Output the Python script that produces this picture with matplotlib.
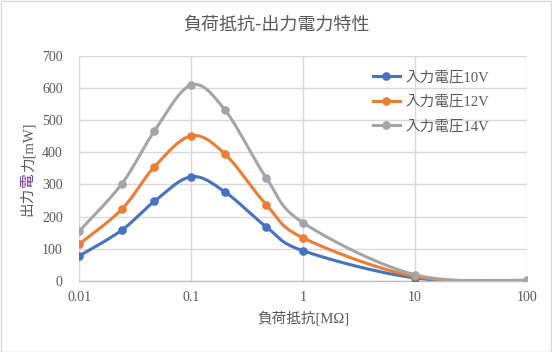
import numpy as np
import matplotlib
matplotlib.use("Agg")
import matplotlib.pyplot as plt
from matplotlib.patches import Rectangle

# ── Data ───────────────────────────────────────────────────────────────────────
load_mohm = [0.01, 0.024, 0.047, 0.1, 0.2, 0.47, 1, 10, 100]
power_10v = [78, 158, 248, 324, 277, 168, 94, 9.5, 1.0]
power_12v = [115, 223, 355, 451, 395, 237, 134, 14, 1.4]
power_14v = [155, 302, 466, 609, 532, 320, 181, 19.5, 2.0]

series_labels = ["入力電圧10V", "入力電圧12V", "入力電圧14V"]
series_colors = ["#4472C4", "#ED7D31", "#A5A5A5"]

x_ticks = [0.01, 0.1, 1, 10, 100]
x_tick_labels = ["0.01", "0.1", "1", "10", "100"]
y_ticks = list(range(0, 701, 100))

TEXT = "#595959"
GRID = "#D9D9D9"
FONTS = ["Liberation Serif", "Noto Sans CJK JP", "DejaVu Sans"]
plt.rcParams["font.family"] = FONTS


def smooth(xs, ys, n=40):
    """Excel-like smoothed line: Catmull-Rom bezier in (log10 x, y) space."""
    u = np.log10(xs)
    y = np.asarray(ys, dtype=float)
    pts = np.column_stack([u, y])
    out = []
    for i in range(len(pts) - 1):
        p0 = pts[max(i - 1, 0)]
        p1 = pts[i]
        p2 = pts[i + 1]
        p3 = pts[min(i + 2, len(pts) - 1)]
        c1 = p1 + (p2 - p0) / 6
        c2 = p2 - (p3 - p1) / 6
        t = np.linspace(0, 1, n)[:, None]
        seg = ((1 - t) ** 3) * p1 + 3 * ((1 - t) ** 2) * t * c1 \
            + 3 * (1 - t) * t ** 2 * c2 + t ** 3 * p2
        out.append(seg if i == 0 else seg[1:])
    out = np.vstack(out)
    return 10 ** out[:, 0], out[:, 1]


W, H = 552, 352
fig = plt.figure(figsize=(W / 100, H / 100), dpi=100)
fig.patches.append(Rectangle((0.5 / W, 0.5 / H), 1 - 1.5 / W, 1 - 1.5 / H,
                             transform=fig.transFigure, fill=False,
                             edgecolor=GRID, lw=1))

L, R, T, B = 79.3, 526.7, 55.7, 281
ax = fig.add_axes([L / W, 1 - B / H, (R - L) / W, (B - T) / H])

for ys, color, label in zip([power_10v, power_12v, power_14v],
                            series_colors, series_labels):
    sx, sy = smooth(load_mohm, ys)
    ax.plot(sx, sy, color=color, lw=2.2, solid_capstyle="round", zorder=3)
    ax.plot(load_mohm, ys, linestyle="none", marker="o", ms=5.2,
            color=color, zorder=4)
    ax.plot([], [], color=color, lw=2.2, marker="o", ms=5.2, label=label)

ax.set_xscale("log")
ax.set_xlim(0.01, 100)
ax.set_ylim(0, 700)
ax.set_xticks(x_ticks)
ax.set_xticklabels(x_tick_labels)
ax.minorticks_off()
ax.set_yticks(y_ticks)
ax.tick_params(length=0, colors=TEXT, labelsize=10)
ax.tick_params(axis="x", pad=7)
ax.tick_params(axis="y", pad=12)
ax.grid(True, color=GRID, lw=1)
ax.set_axisbelow(True)
for side in ["top", "left", "right"]:
    ax.spines[side].set_visible(False)
ax.spines["bottom"].set_color("#BFBFBF")
ax.spines["bottom"].set_linewidth(1)

fig.text(0.5, 1 - 25 / H, "負荷抵抗-出力電力特性", ha="center", va="center",
         fontsize=13, color=TEXT, family=["Noto Sans CJK JP", "DejaVu Sans"])

ax.set_xlabel("負荷抵抗[MΩ]", fontsize=10.5, color=TEXT, labelpad=5)

# y label with a purple character
t1 = fig.text(28 / W, 1 - 216 / H, "出力", rotation=90, ha="center",
              va="bottom", fontsize=10.5, color=TEXT)
t2 = ax.annotate("電", xy=(0.5, 1), xycoords=t1, rotation=90, ha="center",
                 va="bottom", fontsize=10.5, color="#7030A0")
ax.annotate("力[mW]", xy=(0.5, 1), xycoords=t2, rotation=90, ha="center",
            va="bottom", fontsize=10.5, color=TEXT)

leg = ax.legend(loc="upper left", bbox_to_anchor=((373 - L) / (R - L),
                                                  (B - 71) / (B - T)),
                frameon=False, fontsize=10.5, borderpad=0, handlelength=1.85,
                handletextpad=0.35, labelspacing=0.75, borderaxespad=0)
for txt in leg.get_texts():
    txt.set_color(TEXT)

fig.savefig("out.png", dpi=100)
